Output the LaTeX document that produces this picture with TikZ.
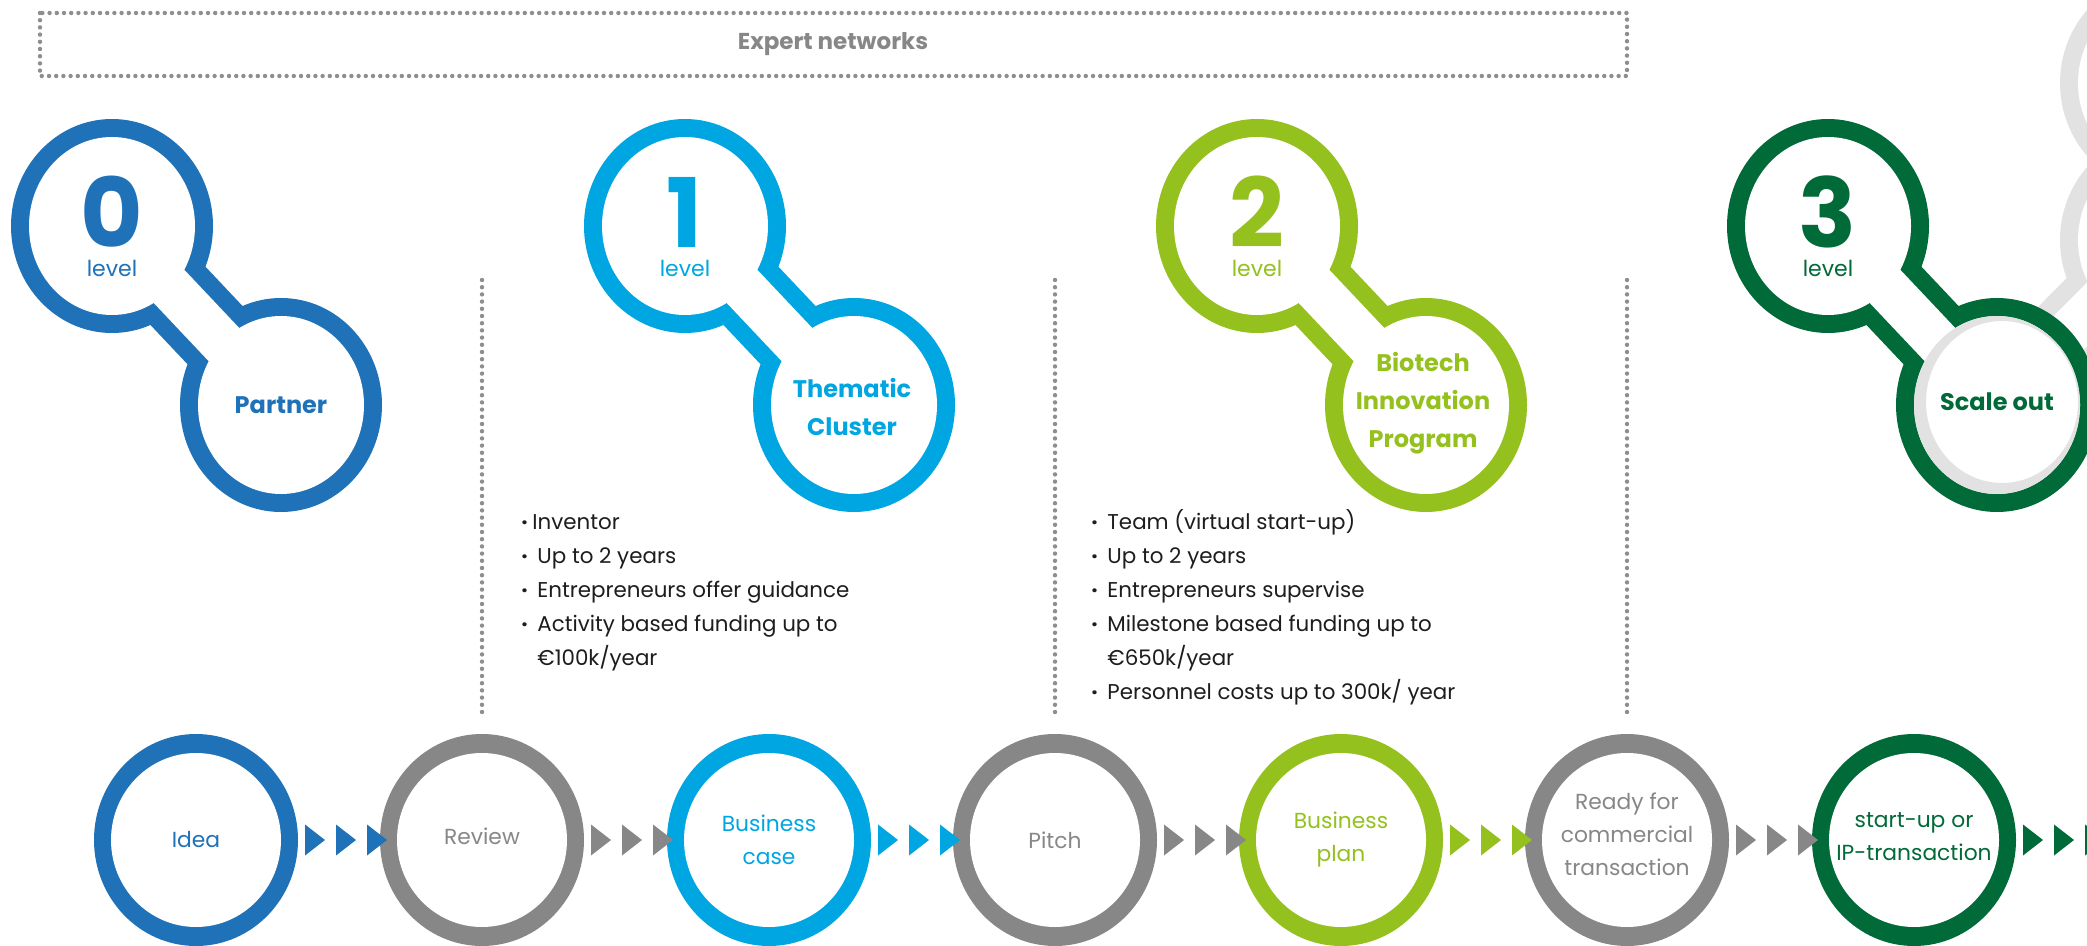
\documentclass[tikz,border=0pt]{standalone}
\usepackage{fontspec}
\setmainfont{Poppins}
\usetikzlibrary{calc}
\definecolor{lvlzero}{HTML}{1F71B8}
\definecolor{lvlone}{HTML}{00A6E2}
\definecolor{lvltwo}{HTML}{95C11F}
\definecolor{lvlthree}{HTML}{006A38}
\definecolor{stagegray}{HTML}{878787}
\definecolor{ghost}{HTML}{E2E2E2}
\definecolor{dotgray}{HTML}{8E8E8E}
\definecolor{ink}{HTML}{1D1D1B}
\tikzset{
	digit/.style={font=\fontsize{48}{48}\selectfont\bfseries,anchor=base,inner sep=0pt},
	lvltext/.style={font=\fontsize{11}{11}\selectfont,anchor=base,inner sep=0pt},
	stage/.style={font=\fontsize{12}{19}\selectfont\bfseries,align=center,inner sep=0pt},
	phase/.style={font=\fontsize{10.9}{16.5}\selectfont,align=center,inner sep=0pt},
	facts/.style={font=\fontsize{10.7}{17}\selectfont,text=ink,anchor=base west,inner sep=0pt},
	dotline/.style={draw=dotgray,line width=2.2pt,line cap=round,dash pattern=on 0pt off 3.6pt}
}
\newcommand\dumbbell[3]{%
	\fill[#1] (#2) ellipse [x radius=101,y radius=107] (#3) ellipse [x radius=101,y radius=107];
	\draw[#1,line width=40pt] (#2) to (#3);
	\fill[white] (#2) ellipse [x radius=83,y radius=89] (#3) ellipse [x radius=83,y radius=89];
	\draw[white,line width=22.5pt] (#2) to (#3);
}
\newcommand\ring[2]{%
	\fill[#1] (#2) ellipse [x radius=102,y radius=106];
	\fill[white] (#2) ellipse [x radius=85,y radius=87];
}
\newcommand\chevrons[2]{%
	\foreach \d in {109,140,171} \fill[#1] ($(#2)+(\d,-15.5)$) to ++(20,15.5) to ++(-20,15.5) to cycle;
}
\newcommand\bul{\makebox[8pt][l]{\bfseries·}}
\begin{document}
\begin{tikzpicture}[x=0.5pt,y=-0.5pt]
	\fill[white] (0,0) rectangle (2087,946);
	\useasboundingbox (0,0) rectangle (2087,946);
	\foreach \i/\xcoord in {0/112,1/685,2/1257,3/1828} {
		\coordinate (top\i) at (\xcoord,226);
		\coordinate (bot\i) at (\xcoord+169,405);
	}
	\foreach \i/\xcoord in {1/196,2/482,3/769,4/1055,5/1341,6/1627,7/1914} \coordinate (s\i) at (\xcoord,840);
	% expert networks frame and separators
	\draw[dotline] (40,13) rectangle (1627,76);
	\node[font=\fontsize{11.5}{11.5}\selectfont\bfseries,text=stagegray,inner sep=0pt] (experts) at (833,44) {Expert networks};
	\foreach \i in {2,4,6} \draw[dotline] (s\i |- 0,280) to (s\i |- 0,715);
	% ghost of the next level
	\fill[ghost] (2161,83) ellipse [x radius=101,y radius=107] (2161,240) ellipse [x radius=101,y radius=107];
	\draw[ghost,line width=40pt] (2161,240) to (bot3);
	\fill[white] (2161,83) ellipse [x radius=83,y radius=89] (2161,240) ellipse [x radius=83,y radius=89];
	\draw[white,line width=22.5pt] (2161,240) to (bot3);
	% levels
	\dumbbell{lvlzero}{top0}{bot0}
	\dumbbell{lvlone}{top1}{bot1}
	\dumbbell{lvltwo}{top2}{bot2}
	\dumbbell{lvlthree}{top3}{bot3}
	\fill[ghost,even odd rule] (bot3) ellipse [x radius=83,y radius=89] ($(bot3)+(5,-3)$) ellipse [x radius=76,y radius=81];
	\foreach \i/\c in {0/lvlzero,1/lvlone,2/lvltwo,3/lvlthree} {
		\node[digit,text=\c] (digit\i) at ($(top\i)+(0,22)$) {\i};
		\node[lvltext,text=\c] (level\i) at ($(top\i)+(0,51)$) {level};
	}
	\node[stage,text=lvlzero] (partner) at (bot0) {Partner};
	\node[stage,text=lvlone] (cluster) at ($(bot1)+(-2,2)$) {Thematic\\Cluster};
	\node[stage,text=lvltwo] (program) at ($(bot2)+(-3,-2)$) {Biotech\\Innovation\\Program};
	\node[stage,text=lvlthree] (scale) at ($(bot3)+(0,-3)$) {Scale out};
	% facts per level
	\node[facts] (factsone) at (521,529) {\begin{tabular}[t]{@{}l@{}}
		\bul\hspace*{-2.5pt}Inventor\\
		\bul Up to 2 years\\
		\bul Entrepreneurs offer guidance\\
		\bul Activity based funding up to\\
		\hspace*{8pt}€100k/year
	\end{tabular}};
	\node[facts] (factstwo) at (1091,529) {\begin{tabular}[t]{@{}l@{}}
		\bul Team (virtual start-up)\\
		\bul Up to 2 years\\
		\bul Entrepreneurs supervise\\
		\bul Milestone based funding up to\\
		\hspace*{8pt}€650k/year\\
		\bul Personnel costs up to 300k/ year
	\end{tabular}};
	% stages
	\foreach \i/\c in {1/lvlzero,2/stagegray,3/lvlone,4/stagegray,5/lvltwo,6/stagegray,7/lvlthree} \ring{\c}{s\i};
	\foreach \i/\c in {1/lvlzero,2/stagegray,3/lvlone,4/stagegray,5/lvltwo,6/stagegray,7/lvlthree} \chevrons{\c}{s\i};
	\node[phase,text=lvlzero] (idea) at (s1) {Idea};
	\node[phase,text=stagegray] (review) at ($(s2)+(0,-4)$) {Review};
	\node[phase,text=lvlone] (bcase) at (s3) {Business\\case};
	\node[phase,text=stagegray] (pitch) at (s4) {Pitch};
	\node[phase,text=lvltwo] (bplan) at (s5) {Business\\plan};
	\node[phase,text=stagegray] (ready) at ($(s6)+(0,-6)$) {Ready for\\commercial\\transaction};
	\node[phase,text=lvlthree] (startup) at ($(s7)+(0,-3)$) {start-up or\\IP-transaction};
\end{tikzpicture}
\end{document}
